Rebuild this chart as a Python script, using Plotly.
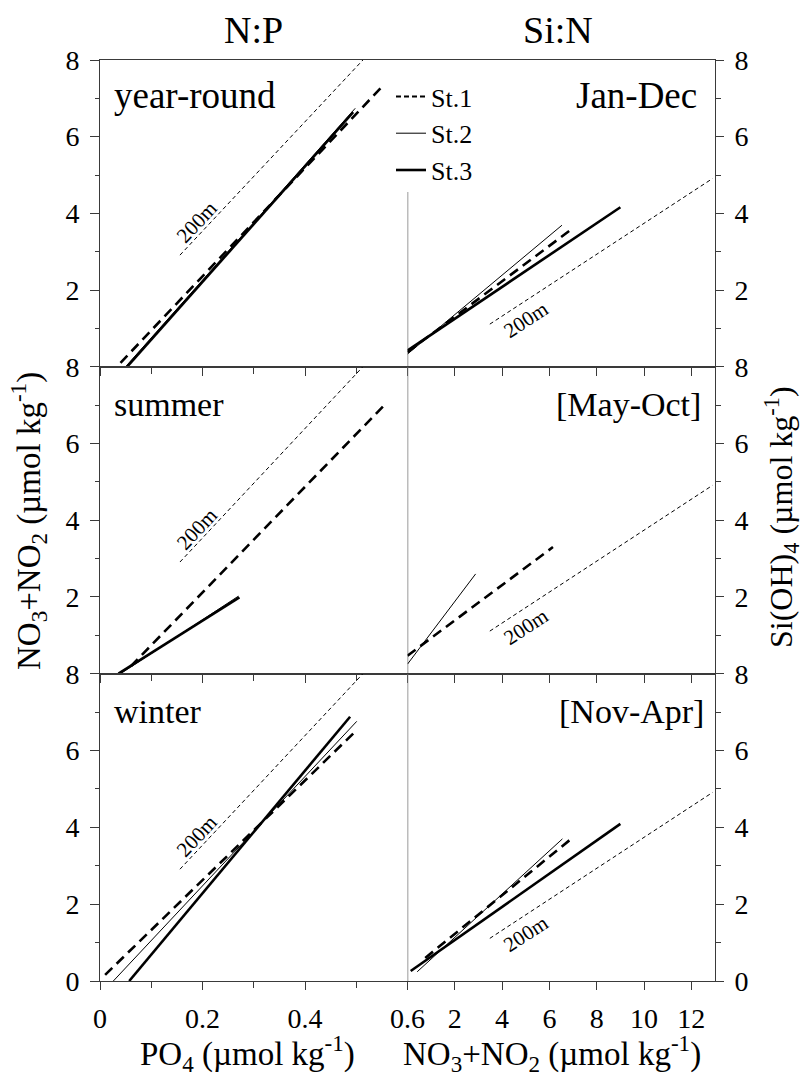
import plotly.graph_objects as go

W, H = 806, 1076

# ---------------- data ----------------
# 200 m reference lines
NP_200M_X = [0.156, 0.513]
NP_200M_Y = [2.91, 8.0]
SIN_200M_X = [3.48, 12.9]
SIN_200M_Y = [1.11, 4.91]

# N:P (x = PO4, y = NO3+NO2)
NP_YEAR_ST1_X = [0.040, 0.550]; NP_YEAR_ST1_Y = [0.10, 7.30]
NP_YEAR_ST2_X = [0.050, 0.498]; NP_YEAR_ST2_Y = [0.00, 6.74]
NP_YEAR_ST3_X = [0.053, 0.494]; NP_YEAR_ST3_Y = [0.00, 6.64]

NP_SUM_ST1_X = [0.060, 0.552]; NP_SUM_ST1_Y = [0.19, 6.96]
NP_SUM_ST2_X = [0.040, 0.270]; NP_SUM_ST2_Y = [0.00, 2.02]
NP_SUM_ST3_X = [0.036, 0.272]; NP_SUM_ST3_Y = [0.00, 1.99]

NP_WIN_ST1_X = [0.010, 0.494]; NP_WIN_ST1_Y = [0.16, 6.44]
NP_WIN_ST2_X = [0.026, 0.501]; NP_WIN_ST2_Y = [0.00, 6.76]
NP_WIN_ST3_X = [0.057, 0.488]; NP_WIN_ST3_Y = [0.00, 6.88]

# Si:N (x = NO3+NO2, y = Si(OH)4)
SIN_YEAR_ST1_X = [0.00, 7.03]; SIN_YEAR_ST1_Y = [0.38, 3.63]
SIN_YEAR_ST2_X = [0.00, 6.53]; SIN_YEAR_ST2_Y = [0.33, 3.69]
SIN_YEAR_ST3_X = [0.00, 9.00]; SIN_YEAR_ST3_Y = [0.42, 4.16]

SIN_SUM_ST1_X = [0.00, 6.15]; SIN_SUM_ST1_Y = [0.47, 3.30]
SIN_SUM_ST2_X = [0.00, 2.88]; SIN_SUM_ST2_Y = [0.25, 2.60]

SIN_WIN_ST1_X = [0.75, 7.04]; SIN_WIN_ST1_Y = [0.60, 3.76]
SIN_WIN_ST2_X = [0.41, 6.55]; SIN_WIN_ST2_Y = [0.24, 3.70]
SIN_WIN_ST3_X = [0.135, 9.00]; SIN_WIN_ST3_Y = [0.26, 4.09]

STATIONS = ["St.1", "St.2", "St.3"]
PANEL_LABELS_LEFT = ["year-round", "summer", "winter"]
PANEL_LABELS_RIGHT = ["Jan-Dec", "[May-Oct]", "[Nov-Apr]"]
NP_XTICKS = [0, 0.2, 0.4, 0.6]
NP_XTICKTEXT = ["0", "0.2", "0.4", "0.6"]
NP_XMINOR = [0.1, 0.3, 0.5]
SIN_XTICKS = [0, 2, 4, 6, 8, 10, 12]
SIN_XTICKTEXT = ["", "2", "4", "6", "8", "10", "12"]
Y_MINOR = [1, 3, 5, 7]
# upper end (in Si axis units) of the divider line in each right-hand panel
DIVIDER_TOP = [4.56, 8, 8]

# ---------------- styles ----------------
FONT = "Liberation Serif"
AX = "#3a3a3a"
DIV = "#7a7a7a"
ST_STYLE = {
    "St.1": dict(color="black", width=2.6, dash="10px,6px"),
    "St.2": dict(color="black", width=1.0),
    "St.3": dict(color="black", width=2.6),
}
REF_STYLE = dict(color="black", width=1.0, dash="4px,3px")

def px2x(px):
    return px / W

def py2y(py):
    return 1 - py / H

col_dom = [[px2x(100), px2x(407.5)], [px2x(407.5), px2x(715)]]
row_dom = [[py2y(366.7), py2y(60)], [py2y(673.7), py2y(366.7)], [py2y(981), py2y(673.7)]]

fig = go.Figure()

panels = [
    (0, 0, [("St.1", NP_YEAR_ST1_X, NP_YEAR_ST1_Y), ("St.2", NP_YEAR_ST2_X, NP_YEAR_ST2_Y), ("St.3", NP_YEAR_ST3_X, NP_YEAR_ST3_Y)]),
    (0, 1, [("St.1", SIN_YEAR_ST1_X, SIN_YEAR_ST1_Y), ("St.2", SIN_YEAR_ST2_X, SIN_YEAR_ST2_Y), ("St.3", SIN_YEAR_ST3_X, SIN_YEAR_ST3_Y)]),
    (1, 0, [("St.1", NP_SUM_ST1_X, NP_SUM_ST1_Y), ("St.2", NP_SUM_ST2_X, NP_SUM_ST2_Y), ("St.3", NP_SUM_ST3_X, NP_SUM_ST3_Y)]),
    (1, 1, [("St.1", SIN_SUM_ST1_X, SIN_SUM_ST1_Y), ("St.2", SIN_SUM_ST2_X, SIN_SUM_ST2_Y)]),
    (2, 0, [("St.1", NP_WIN_ST1_X, NP_WIN_ST1_Y), ("St.2", NP_WIN_ST2_X, NP_WIN_ST2_Y), ("St.3", NP_WIN_ST3_X, NP_WIN_ST3_Y)]),
    (2, 1, [("St.1", SIN_WIN_ST1_X, SIN_WIN_ST1_Y), ("St.2", SIN_WIN_ST2_X, SIN_WIN_ST2_Y), ("St.3", SIN_WIN_ST3_X, SIN_WIN_ST3_Y)]),
]

layout_axes = {}
for i, (r, c, lines) in enumerate(panels):
    n = i + 1
    xa = "x" if n == 1 else f"x{n}"
    ya = "y" if n == 1 else f"y{n}"
    xkey = "xaxis" if n == 1 else f"xaxis{n}"
    ykey = "yaxis" if n == 1 else f"yaxis{n}"
    bottom = (r == 2)

    if c == 0:
        rx, ry = NP_200M_X, NP_200M_Y
    else:
        rx, ry = SIN_200M_X, SIN_200M_Y
    fig.add_trace(go.Scatter(x=rx, y=ry, mode="lines", line=REF_STYLE,
                             xaxis=xa, yaxis=ya, showlegend=False, hoverinfo="skip"))
    for name, xs, ys in lines:
        fig.add_trace(go.Scatter(x=xs, y=ys, mode="lines", name=name, line=ST_STYLE[name],
                                 xaxis=xa, yaxis=ya, showlegend=False))

    if c == 0:
        layout_axes[xkey] = dict(
            domain=col_dom[0], range=[0, 0.6], anchor=ya, automargin=False,
            tickvals=NP_XTICKS, ticktext=NP_XTICKTEXT, showticklabels=bottom,
            ticks="outside", ticklen=8, tickwidth=1, tickcolor=AX,
            minor=dict(tickvals=NP_XMINOR, ticks="outside", ticklen=6, tickwidth=1, tickcolor=AX),
            showline=True, linecolor=AX, linewidth=1, mirror=True,
            showgrid=False, zeroline=False, ticklabelstandoff=4,
            tickfont=dict(family=FONT, size=28, color="black"),
        )
        layout_axes[ykey] = dict(
            domain=row_dom[r], range=[0, 8], anchor=xa, side="left", automargin=False,
            tickvals=[0, 2, 4, 6, 8] if bottom else [2, 4, 6, 8],
            ticks="outside", ticklen=9, tickwidth=1, tickcolor=AX,
            minor=dict(tickvals=Y_MINOR, ticks="outside", ticklen=4, tickwidth=1, tickcolor=AX),
            showline=True, linecolor=AX, linewidth=1,
            showgrid=False, zeroline=False, ticklabelstandoff=5,
            tickfont=dict(family=FONT, size=28, color="black"),
        )
    else:
        layout_axes[xkey] = dict(
            domain=col_dom[1], range=[0, 13], anchor=ya, automargin=False,
            tickvals=SIN_XTICKS, ticktext=SIN_XTICKTEXT, showticklabels=bottom,
            ticks="outside", ticklen=8, tickwidth=1, tickcolor=AX,
            showline=True, linecolor=AX, linewidth=1, mirror=True,
            showgrid=False, zeroline=False, ticklabelstandoff=4,
            tickfont=dict(family=FONT, size=28, color="black"),
        )
        layout_axes[ykey] = dict(
            domain=row_dom[r], range=[0, 8], anchor=xa, side="right", automargin=False,
            tickvals=[0, 2, 4, 6, 8] if bottom else [2, 4, 6, 8],
            ticks="outside", ticklen=8, tickwidth=1, tickcolor=AX,
            minor=dict(tickvals=Y_MINOR, ticks="outside", ticklen=5, tickwidth=1, tickcolor=AX),
            showline=True, linecolor=AX, linewidth=1,
            showgrid=False, zeroline=False, ticklabelstandoff=5,
            tickfont=dict(family=FONT, size=28, color="black"),
        )
        # divider between the two columns (x = 0 of the Si:N axis)
        fig.add_shape(type="line", xref=xa, yref=ya, x0=0, x1=0, y0=0, y1=DIVIDER_TOP[r],
                      line=dict(color=DIV, width=1.5), layer="below")

    if c == 0:
        fig.add_annotation(x=0.189, y=3.77, xref=xa, yref=ya, text="200m", showarrow=False,
                           xanchor="center", yanchor="middle",
                           textangle=-47, font=dict(family=FONT, size=21, color="black"))
    else:
        fig.add_annotation(x=4.99, y=1.22, xref=xa, yref=ya, text="200m", showarrow=False,
                           xanchor="center", yanchor="middle",
                           textangle=-33, font=dict(family=FONT, size=21, color="black"))

# legend-only entries
LEG_STYLE = {
    "St.1": dict(color="black", width=2.0, dash="5px,3px"),
    "St.2": dict(color="black", width=1.0),
    "St.3": dict(color="black", width=2.6),
}
for name in STATIONS:
    fig.add_trace(go.Scatter(x=[None], y=[None], mode="lines", name=name, line=LEG_STYLE[name],
                             showlegend=True, xaxis="x", yaxis="y"))

left_label_y = [96, 404, 711]
right_label_y = [96, 404, 711]
left_sizes = [37, 34, 34]
right_sizes = [37, 34, 34]
right_x = [699, 703, 705.5]
for k in range(3):
    fig.add_annotation(x=px2x(112), y=py2y(left_label_y[k]), xref="paper", yref="paper",
                       text=PANEL_LABELS_LEFT[k], showarrow=False, xanchor="left", yanchor="middle",
                       font=dict(family=FONT, size=left_sizes[k], color="black"))
    fig.add_annotation(x=px2x(right_x[k]), y=py2y(right_label_y[k]), xref="paper", yref="paper",
                       text=PANEL_LABELS_RIGHT[k], showarrow=False, xanchor="right", yanchor="middle",
                       font=dict(family=FONT, size=right_sizes[k], color="black"))

def center_note(px, py, text, size, angle=0):
    fig.add_annotation(x=px2x(px), y=py2y(py), xref="paper", yref="paper", text=text,
                       showarrow=False, xanchor="center", yanchor="middle", textangle=angle,
                       font=dict(family=FONT, size=size, color="black"))

center_note(253, 30, "N:P", 38)
center_note(558, 30, "Si:N", 38)
center_note(247, 1053, "PO<sub>4</sub> (µmol kg<sup>-1</sup>)", 33)
center_note(552, 1053, "NO<sub>3</sub>+NO<sub>2</sub> (µmol kg<sup>-1</sup>)", 33)
center_note(28, 521, "NO<sub>3</sub>+NO<sub>2</sub> (µmol kg<sup>-1</sup>)", 33, -90)
center_note(781, 517, "Si(OH)<sub>4</sub> (µmol kg<sup>-1</sup>)", 32, -90)

fig.update_layout(
    width=W, height=H,
    margin=dict(l=0, r=0, t=0, b=0, autoexpand=False),
    paper_bgcolor="white", plot_bgcolor="white",
    font=dict(family=FONT, size=28, color="black"),
    showlegend=True,
    legend=dict(x=px2x(391), y=py2y(73), xanchor="left", yanchor="top",
                bgcolor="rgba(255,255,255,0)", borderwidth=0, tracegroupgap=0,
                font=dict(family=FONT, size=26, color="black"), itemwidth=30),
    **layout_axes,
)

fig.write_html("out.html")
